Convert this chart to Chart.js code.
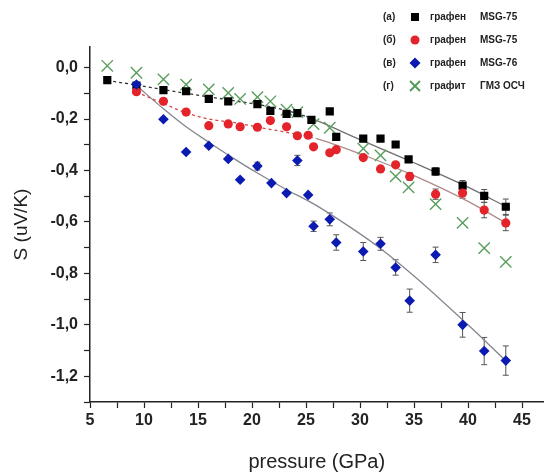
<!DOCTYPE html>
<html>
<head>
  <title>Seebeck vs pressure</title>
  <style>
    body { margin: 0; background: #fff; font-family: Arial, "Liberation Sans", sans-serif; }
    #wrap { position: relative; width: 553px; height: 474px; }
    #legend { position: absolute; left: 383px; top: 5px; font-size: 10px; font-weight: bold; color: #222; }
    #legend .row { height: 23px; display: flex; align-items: center; white-space: nowrap; }
    #legend .tag { width: 25px; }
    #legend svg { width: 14px; height: 14px; margin-right: 8px; }
    #legend .mat { width: 50px; }
  </style>
</head>
<body>

<div id="wrap">
  <canvas id="chart" width="553" height="474"></canvas>
  <div id="legend">
    <div class="row"><span class="tag">(a)</span><svg viewBox="0 0 14 14"><rect x="3" y="3" width="8" height="8" fill="#000"/></svg><span class="mat">графен</span><span>MSG-75</span></div>
    <div class="row"><span class="tag">(б)</span><svg viewBox="0 0 14 14"><circle cx="7" cy="7" r="4.5" fill="#e3242b"/></svg><span class="mat">графен</span><span>MSG-75</span></div>
    <div class="row"><span class="tag">(в)</span><svg viewBox="0 0 14 14"><polygon points="7,1.5 12.5,7 7,12.5 1.5,7" fill="#0b1ab0"/></svg><span class="mat">графен</span><span>MSG-76</span></div>
    <div class="row"><span class="tag">(г)</span><svg viewBox="0 0 14 14"><path d="M2 2L12 12M12 2L2 12" stroke="#4f9a55" stroke-width="1.8"/></svg><span class="mat">графит</span><span>ГМЗ ОСЧ</span></div>
  </div>
</div>

<script src="https://cdn.jsdelivr.net/npm/chart.js"></script>
<script>
// (a) graphene MSG-75, black squares
const pressureA = [6.6, 9.3, 11.8, 13.9, 16.0, 17.8, 20.5, 21.7, 23.2, 24.2, 25.5, 27.2, 27.8, 30.3, 31.9, 33.3, 34.5, 37.0, 39.5, 41.5, 43.5];
const seebeckA  = [-0.049, -0.07, -0.088, -0.092, -0.122, -0.131, -0.142, -0.168, -0.18, -0.177, -0.203, -0.17, -0.269, -0.276, -0.276, -0.299, -0.357, -0.404, -0.459, -0.499, -0.541];
const errA      = [0, 0, 0, 0, 0, 0, 0, 0, 0, 0, 0, 0, 0.012, 0, 0, 0, 0, 0.015, 0.02, 0.025, 0.03];

// (б) graphene MSG-75, red circles
const pressureB = [9.3, 11.8, 13.9, 16.0, 17.8, 18.9, 20.5, 21.7, 23.2, 24.2, 25.2, 25.7, 27.2, 27.8, 30.3, 31.9, 33.3, 34.6, 37.0, 39.5, 41.5, 43.5];
const seebeckB  = [-0.094, -0.131, -0.173, -0.226, -0.219, -0.23, -0.232, -0.206, -0.23, -0.265, -0.263, -0.308, -0.331, -0.319, -0.35, -0.394, -0.378, -0.423, -0.492, -0.488, -0.554, -0.604];
const errB      = [0, 0, 0, 0, 0, 0, 0, 0, 0, 0, 0, 0, 0, 0, 0, 0, 0, 0.015, 0.02, 0.02, 0.03, 0.03];

// (в) graphene MSG-76, blue diamonds
const pressureC = [9.3, 11.8, 13.9, 16.0, 17.8, 18.9, 20.5, 21.8, 23.2, 24.2, 25.2, 25.7, 27.2, 27.8, 30.3, 31.9, 33.3, 34.6, 37.0, 39.5, 41.5, 43.5];
const seebeckC  = [-0.066, -0.201, -0.328, -0.304, -0.355, -0.436, -0.383, -0.449, -0.488, -0.361, -0.495, -0.617, -0.59, -0.68, -0.715, -0.685, -0.777, -0.906, -0.728, -1.0, -1.102, -1.139];
const errC      = [0, 0, 0, 0, 0, 0, 0.015, 0, 0, 0.02, 0, 0.02, 0.025, 0.03, 0.035, 0.025, 0.03, 0.045, 0.03, 0.048, 0.053, 0.057];

// (г) graphite, green crosses
const pressureD = [6.6, 9.3, 11.8, 13.9, 16.0, 17.8, 18.9, 20.5, 21.7, 23.2, 24.2, 25.7, 27.2, 30.3, 31.9, 33.3, 34.5, 37.0, 39.5, 41.5, 43.5];
const seebeckD  = [0.007, -0.02, -0.046, -0.066, -0.085, -0.098, -0.122, -0.115, -0.131, -0.164, -0.173, -0.22, -0.234, -0.315, -0.341, -0.423, -0.466, -0.531, -0.604, -0.702, -0.755];

// guide curves
const fitPressureA = [6.6, 9.3, 13.9, 18.5, 22.0, 25.0, 30.0, 35.0, 40.0, 43.5];
const fitSeebeckA  = [-0.05, -0.068, -0.1, -0.13, -0.155, -0.19, -0.28, -0.37, -0.465, -0.54];
const fitPressureB = [9.3, 11.8, 13.9, 16.0, 18.5, 21.0, 23.0, 25.9, 30.0, 35.0, 40.0, 43.5];
const fitSeebeckB  = [-0.095, -0.14, -0.176, -0.2, -0.215, -0.235, -0.25, -0.275, -0.335, -0.42, -0.52, -0.604];
const fitPressureC = [9.3, 11.8, 13.9, 16.0, 18.0, 20.5, 23.0, 25.7, 28.0, 31.8, 35.0, 40.0, 43.5];
const fitSeebeckC  = [-0.07, -0.16, -0.23, -0.29, -0.345, -0.41, -0.47, -0.53, -0.59, -0.7, -0.81, -1.0, -1.14];

const xTicks = [];
for (let v = 5; v <= 45; v += 2.5) xTicks.push(v);
const yTicks = [];
for (let i = -13; i <= 0; i++) yTicks.push(i / 10);

function pts(xs, ys) { return xs.map((x, i) => ({ x: x, y: ys[i] })); }

const errorBars = {
  id: 'errorBars',
  beforeDatasetsDraw(chart) {
    const ctx = chart.ctx;
    const xs = chart.scales.x, ys = chart.scales.y;
    chart.data.datasets.forEach(ds => {
      if (!ds.err) return;
      ctx.save();
      ctx.strokeStyle = '#555';
      ctx.lineWidth = 1;
      ds.data.forEach((p, i) => {
        const e = ds.err[i];
        if (!e) return;
        const px = xs.getPixelForValue(p.x);
        const top = ys.getPixelForValue(p.y + e);
        const bot = ys.getPixelForValue(p.y - e);
        ctx.beginPath();
        ctx.moveTo(px, top); ctx.lineTo(px, bot);
        ctx.moveTo(px - 3, top); ctx.lineTo(px + 3, top);
        ctx.moveTo(px - 3, bot); ctx.lineTo(px + 3, bot);
        ctx.stroke();
      });
      ctx.restore();
    });
  }
};

function fitLine(xs, ys, dashColor, solidColor, dashUntil) {
  return {
    data: pts(xs, ys),
    showLine: true,
    pointRadius: 0,
    borderWidth: 1.3,
    borderColor: solidColor,
    cubicInterpolationMode: 'monotone',
    segment: {
      borderDash: c => c.p0.parsed.x < dashUntil ? [3, 3] : undefined,
      borderColor: c => c.p0.parsed.x < dashUntil ? dashColor : solidColor
    }
  };
}

new Chart(document.getElementById('chart'), {
  type: 'scatter',
  data: {
    datasets: [
      { label: 'графен MSG-76 (в)', data: pts(pressureC, seebeckC), err: errC, pointStyle: 'rectRot', pointRadius: 5.3, backgroundColor: '#0b1ab0', borderWidth: 0 },
      { label: 'графен MSG-75 (б)', data: pts(pressureB, seebeckB), err: errB, pointStyle: 'circle', pointRadius: 4.6, backgroundColor: '#e3242b', borderWidth: 0 },
      { label: 'графен MSG-75 (a)', data: pts(pressureA, seebeckA), err: errA, pointStyle: 'rect', pointRadius: 5.8, backgroundColor: '#000', borderWidth: 0 },
      { label: 'графит ГМЗ ОСЧ (г)', data: pts(pressureD, seebeckD), pointStyle: 'crossRot', pointRadius: 8, borderColor: '#5a9e5e', borderWidth: 1.4, backgroundColor: 'transparent' },
      fitLine(fitPressureA, fitSeebeckA, '#333', '#707070', 25),
      fitLine(fitPressureB, fitSeebeckB, '#d04848', '#b08a8a', 25),
      fitLine(fitPressureC, fitSeebeckC, '#858590', '#858590', 0)
    ]
  },
  options: {
    responsive: false,
    animation: false,
    layout: { padding: { top: 47, right: 0, left: 0, bottom: 0 } },
    plugins: { legend: { display: false }, tooltip: { enabled: false } },
    scales: {
      x: {
        type: 'linear', min: 5, max: 47,
        border: { color: '#222', width: 1.5 },
        grid: { drawOnChartArea: false, tickLength: 6, color: '#222', tickWidth: 1.2 },
        afterBuildTicks: s => { s.ticks = xTicks.map(v => ({ value: v })); },
        afterFit: s => { s.height = 72; },
        ticks: { color: '#222', padding: 3, font: { family: 'Arial', size: 16, weight: 'bold' },
                 callback: v => v % 5 === 0 ? String(v) : '' },
        title: { display: true, text: 'pressure (GPa)', color: '#222', font: { family: 'Arial', size: 20 }, padding: { top: 4, bottom: 0 } }
      },
      y: {
        type: 'linear', min: -1.3, max: 0.08,
        border: { color: '#222', width: 1.5 },
        grid: { drawOnChartArea: false, tickLength: 6, color: '#222', tickWidth: 1.2 },
        afterBuildTicks: s => { s.ticks = yTicks.map(v => ({ value: v })); },
        afterFit: s => { s.width = 90; },
        ticks: { color: '#222', padding: 6, font: { family: 'Arial', size: 16, weight: 'bold' },
                 callback: v => Math.round(v * 10) % 2 === 0 ? (Math.abs(v) < 1e-9 ? '0,0' : v.toFixed(1).replace('.', ',')) : '' },
        title: { display: true, text: 'S (uV/K)', color: '#222', font: { family: 'Arial', size: 19 }, padding: { top: 10, bottom: 0 } }
      }
    }
  },
  plugins: [errorBars]
});
</script>

</body>
</html>
